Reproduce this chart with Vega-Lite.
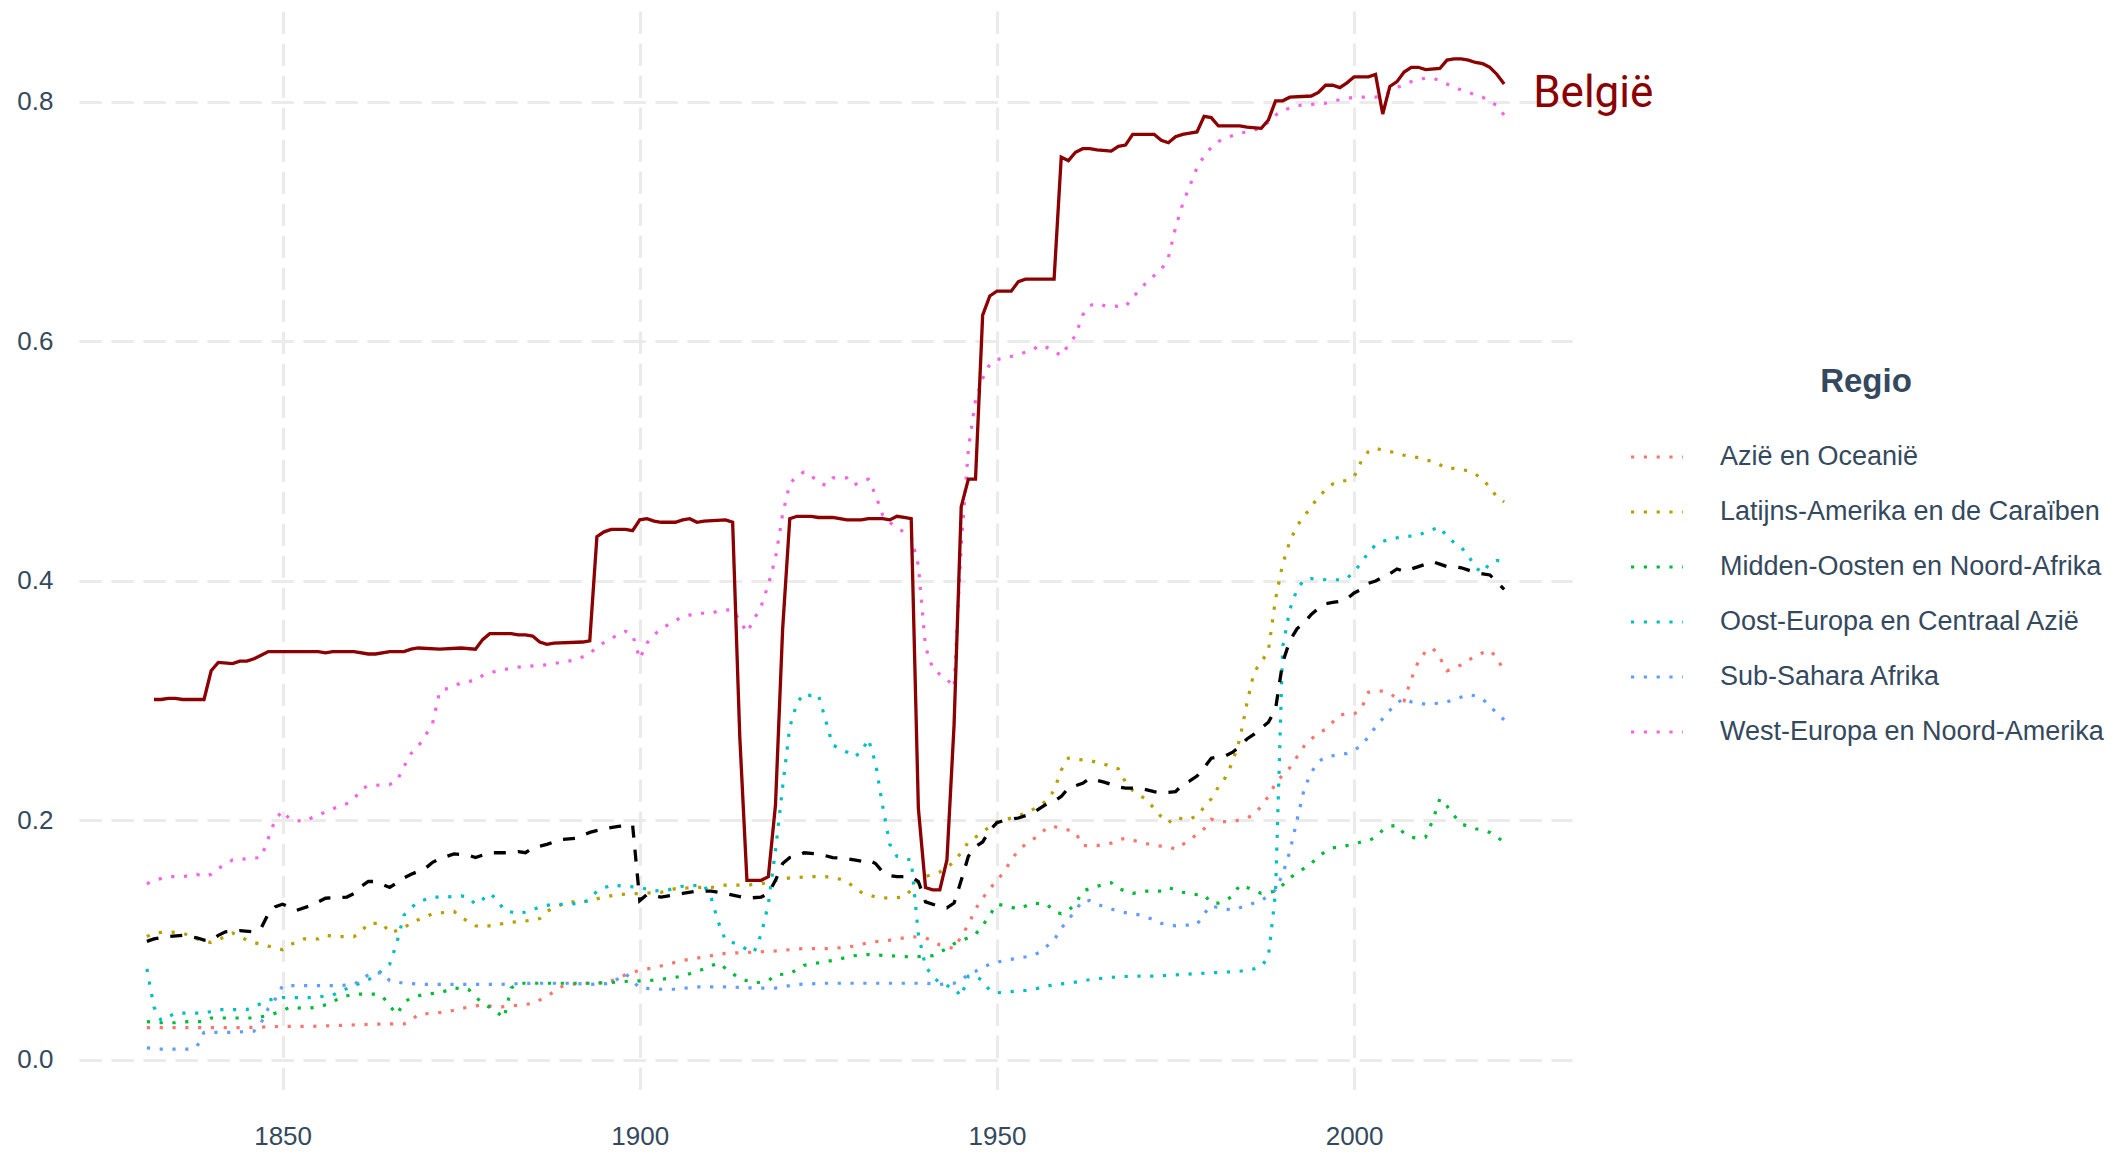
{
"$schema":"https://vega.github.io/schema/vega-lite/v6.json",
"width":1493,"height":1086,
"autosize":{"type":"none"},
"padding":{"left":79,"top":11,"right":554,"bottom":55},
"background":"white",
"config":{
 "view":{"stroke":null},
 "axis":{"domain":false,"ticks":false,"tickSize":0,"title":null,"labelFont":"Liberation Sans","labelFontSize":26,"labelColor":"#34495e","labelPadding":26,"gridColor":"#EBEBEB","gridWidth":3.2,"gridDash":[22.4,9.6],"grid":true},
 "legend":{"orient":"none","legendX":1550,"legendY":355,"titleFont":"Liberation Sans","titleFontSize":33,"titleFontWeight":"bold","titleColor":"#34495e","titleAnchor":"middle","titleAlign":"center","titlePadding":30,"labelFont":"Liberation Sans","labelFontSize":27,"labelColor":"#34495e","labelLimit":700,"labelOffset":35,"symbolType":"stroke","symbolSize":2704,"symbolStrokeWidth":3.2,"symbolDash":[3.2,9.6],"rowPadding":14}
},
"datasets":{
"regio":[
{"r":"Azië en Oceanië","jaar":1831,"w":0.027},{"r":"Azië en Oceanië","jaar":1835,"w":0.027},{"r":"Azië en Oceanië","jaar":1840,"w":0.027},{"r":"Azië en Oceanië","jaar":1845,"w":0.027},{"r":"Azië en Oceanië","jaar":1850,"w":0.028},{"r":"Azië en Oceanië","jaar":1854,"w":0.028},{"r":"Azië en Oceanië","jaar":1859,"w":0.029},{"r":"Azië en Oceanië","jaar":1864,"w":0.030},{"r":"Azië en Oceanië","jaar":1867,"w":0.030},{"r":"Azië en Oceanië","jaar":1868,"w":0.033},{"r":"Azië en Oceanië","jaar":1869,"w":0.038},{"r":"Azië en Oceanië","jaar":1873,"w":0.040},{"r":"Azië en Oceanië","jaar":1875,"w":0.043},{"r":"Azië en Oceanië","jaar":1878,"w":0.046},{"r":"Azië en Oceanië","jaar":1880,"w":0.044},{"r":"Azië en Oceanië","jaar":1882,"w":0.045},{"r":"Azië en Oceanië","jaar":1885,"w":0.047},{"r":"Azië en Oceanië","jaar":1887,"w":0.053},{"r":"Azië en Oceanië","jaar":1889,"w":0.061},{"r":"Azië en Oceanië","jaar":1890,"w":0.063},{"r":"Azië en Oceanië","jaar":1892,"w":0.064},{"r":"Azië en Oceanië","jaar":1894,"w":0.064},{"r":"Azië en Oceanië","jaar":1896,"w":0.066},{"r":"Azië en Oceanië","jaar":1898,"w":0.071},{"r":"Azië en Oceanië","jaar":1900,"w":0.075},{"r":"Azië en Oceanië","jaar":1902,"w":0.077},{"r":"Azië en Oceanië","jaar":1904,"w":0.080},{"r":"Azië en Oceanië","jaar":1906,"w":0.083},{"r":"Azië en Oceanië","jaar":1908,"w":0.085},{"r":"Azië en Oceanië","jaar":1910,"w":0.087},{"r":"Azië en Oceanië","jaar":1912,"w":0.089},{"r":"Azië en Oceanië","jaar":1916,"w":0.090},{"r":"Azië en Oceanië","jaar":1919,"w":0.091},{"r":"Azië en Oceanië","jaar":1923,"w":0.093},{"r":"Azië en Oceanië","jaar":1927,"w":0.093},{"r":"Azië en Oceanië","jaar":1930,"w":0.095},{"r":"Azië en Oceanië","jaar":1932,"w":0.098},{"r":"Azië en Oceanië","jaar":1935,"w":0.100},{"r":"Azië en Oceanië","jaar":1938,"w":0.103},{"r":"Azië en Oceanië","jaar":1940,"w":0.102},{"r":"Azië en Oceanië","jaar":1942,"w":0.096},{"r":"Azië en Oceanië","jaar":1944,"w":0.093},{"r":"Azië en Oceanië","jaar":1945,"w":0.103},{"r":"Azië en Oceanië","jaar":1946,"w":0.113},{"r":"Azië en Oceanië","jaar":1947,"w":0.126},{"r":"Azië en Oceanië","jaar":1948,"w":0.135},{"r":"Azië en Oceanië","jaar":1949,"w":0.143},{"r":"Azië en Oceanië","jaar":1950,"w":0.150},{"r":"Azië en Oceanië","jaar":1951,"w":0.157},{"r":"Azië en Oceanië","jaar":1952,"w":0.167},{"r":"Azië en Oceanië","jaar":1953,"w":0.175},{"r":"Azië en Oceanië","jaar":1954,"w":0.180},{"r":"Azië en Oceanië","jaar":1955,"w":0.184},{"r":"Azië en Oceanië","jaar":1956,"w":0.188},{"r":"Azië en Oceanië","jaar":1957,"w":0.194},{"r":"Azië en Oceanië","jaar":1958,"w":0.195},{"r":"Azië en Oceanië","jaar":1959,"w":0.193},{"r":"Azië en Oceanië","jaar":1960,"w":0.192},{"r":"Azië en Oceanië","jaar":1961,"w":0.190},{"r":"Azië en Oceanië","jaar":1962,"w":0.179},{"r":"Azië en Oceanië","jaar":1964,"w":0.179},{"r":"Azië en Oceanië","jaar":1966,"w":0.181},{"r":"Azië en Oceanië","jaar":1967,"w":0.184},{"r":"Azië en Oceanië","jaar":1968,"w":0.185},{"r":"Azië en Oceanië","jaar":1970,"w":0.182},{"r":"Azië en Oceanië","jaar":1972,"w":0.179},{"r":"Azië en Oceanië","jaar":1974,"w":0.178},{"r":"Azië en Oceanië","jaar":1975,"w":0.176},{"r":"Azië en Oceanië","jaar":1976,"w":0.180},{"r":"Azië en Oceanië","jaar":1977,"w":0.183},{"r":"Azië en Oceanië","jaar":1978,"w":0.189},{"r":"Azië en Oceanië","jaar":1979,"w":0.193},{"r":"Azië en Oceanië","jaar":1980,"w":0.201},{"r":"Azië en Oceanië","jaar":1981,"w":0.199},{"r":"Azië en Oceanië","jaar":1983,"w":0.199},{"r":"Azië en Oceanië","jaar":1985,"w":0.202},{"r":"Azië en Oceanië","jaar":1986,"w":0.205},{"r":"Azië en Oceanië","jaar":1987,"w":0.212},{"r":"Azië en Oceanië","jaar":1988,"w":0.220},{"r":"Azië en Oceanië","jaar":1989,"w":0.231},{"r":"Azië en Oceanië","jaar":1990,"w":0.238},{"r":"Azië en Oceanië","jaar":1991,"w":0.244},{"r":"Azië en Oceanië","jaar":1992,"w":0.253},{"r":"Azië en Oceanië","jaar":1993,"w":0.262},{"r":"Azië en Oceanië","jaar":1994,"w":0.268},{"r":"Azië en Oceanië","jaar":1995,"w":0.273},{"r":"Azië en Oceanië","jaar":1996,"w":0.276},{"r":"Azië en Oceanië","jaar":1997,"w":0.282},{"r":"Azië en Oceanië","jaar":1998,"w":0.288},{"r":"Azië en Oceanië","jaar":1999,"w":0.289},{"r":"Azië en Oceanië","jaar":2000,"w":0.289},{"r":"Azië en Oceanië","jaar":2001,"w":0.293},{"r":"Azië en Oceanië","jaar":2002,"w":0.307},{"r":"Azië en Oceanië","jaar":2003,"w":0.308},{"r":"Azië en Oceanië","jaar":2004,"w":0.308},{"r":"Azië en Oceanië","jaar":2005,"w":0.306},{"r":"Azië en Oceanië","jaar":2006,"w":0.302},{"r":"Azië en Oceanië","jaar":2007,"w":0.300},{"r":"Azië en Oceanië","jaar":2008,"w":0.318},{"r":"Azië en Oceanië","jaar":2009,"w":0.333},{"r":"Azië en Oceanië","jaar":2010,"w":0.341},{"r":"Azië en Oceanië","jaar":2011,"w":0.344},{"r":"Azië en Oceanië","jaar":2012,"w":0.336},{"r":"Azië en Oceanië","jaar":2013,"w":0.325},{"r":"Azië en Oceanië","jaar":2014,"w":0.327},{"r":"Azië en Oceanië","jaar":2015,"w":0.330},{"r":"Azië en Oceanië","jaar":2016,"w":0.334},{"r":"Azië en Oceanië","jaar":2017,"w":0.337},{"r":"Azië en Oceanië","jaar":2018,"w":0.340},{"r":"Azië en Oceanië","jaar":2019,"w":0.342},{"r":"Azië en Oceanië","jaar":2020,"w":0.336},{"r":"Azië en Oceanië","jaar":2021,"w":0.324},
{"r":"Latijns-Amerika en de Caraïben","jaar":1831,"w":0.103},{"r":"Latijns-Amerika en de Caraïben","jaar":1832,"w":0.106},{"r":"Latijns-Amerika en de Caraïben","jaar":1834,"w":0.107},{"r":"Latijns-Amerika en de Caraïben","jaar":1836,"w":0.106},{"r":"Latijns-Amerika en de Caraïben","jaar":1838,"w":0.101},{"r":"Latijns-Amerika en de Caraïben","jaar":1840,"w":0.098},{"r":"Latijns-Amerika en de Caraïben","jaar":1842,"w":0.103},{"r":"Latijns-Amerika en de Caraïben","jaar":1843,"w":0.106},{"r":"Latijns-Amerika en de Caraïben","jaar":1845,"w":0.100},{"r":"Latijns-Amerika en de Caraïben","jaar":1846,"w":0.098},{"r":"Latijns-Amerika en de Caraïben","jaar":1848,"w":0.095},{"r":"Latijns-Amerika en de Caraïben","jaar":1850,"w":0.092},{"r":"Latijns-Amerika en de Caraïben","jaar":1851,"w":0.096},{"r":"Latijns-Amerika en de Caraïben","jaar":1853,"w":0.101},{"r":"Latijns-Amerika en de Caraïben","jaar":1855,"w":0.101},{"r":"Latijns-Amerika en de Caraïben","jaar":1856,"w":0.104},{"r":"Latijns-Amerika en de Caraïben","jaar":1858,"w":0.103},{"r":"Latijns-Amerika en de Caraïben","jaar":1860,"w":0.103},{"r":"Latijns-Amerika en de Caraïben","jaar":1861,"w":0.107},{"r":"Latijns-Amerika en de Caraïben","jaar":1862,"w":0.114},{"r":"Latijns-Amerika en de Caraïben","jaar":1864,"w":0.114},{"r":"Latijns-Amerika en de Caraïben","jaar":1865,"w":0.106},{"r":"Latijns-Amerika en de Caraïben","jaar":1866,"w":0.108},{"r":"Latijns-Amerika en de Caraïben","jaar":1867,"w":0.110},{"r":"Latijns-Amerika en de Caraïben","jaar":1868,"w":0.115},{"r":"Latijns-Amerika en de Caraïben","jaar":1869,"w":0.117},{"r":"Latijns-Amerika en de Caraïben","jaar":1871,"w":0.122},{"r":"Latijns-Amerika en de Caraïben","jaar":1874,"w":0.124},{"r":"Latijns-Amerika en de Caraïben","jaar":1875,"w":0.119},{"r":"Latijns-Amerika en de Caraïben","jaar":1877,"w":0.112},{"r":"Latijns-Amerika en de Caraïben","jaar":1878,"w":0.111},{"r":"Latijns-Amerika en de Caraïben","jaar":1880,"w":0.113},{"r":"Latijns-Amerika en de Caraïben","jaar":1882,"w":0.115},{"r":"Latijns-Amerika en de Caraïben","jaar":1884,"w":0.116},{"r":"Latijns-Amerika en de Caraïben","jaar":1886,"w":0.118},{"r":"Latijns-Amerika en de Caraïben","jaar":1887,"w":0.124},{"r":"Latijns-Amerika en de Caraïben","jaar":1888,"w":0.127},{"r":"Latijns-Amerika en de Caraïben","jaar":1890,"w":0.132},{"r":"Latijns-Amerika en de Caraïben","jaar":1892,"w":0.132},{"r":"Latijns-Amerika en de Caraïben","jaar":1893,"w":0.133},{"r":"Latijns-Amerika en de Caraïben","jaar":1895,"w":0.136},{"r":"Latijns-Amerika en de Caraïben","jaar":1897,"w":0.138},{"r":"Latijns-Amerika en de Caraïben","jaar":1900,"w":0.139},{"r":"Latijns-Amerika en de Caraïben","jaar":1903,"w":0.140},{"r":"Latijns-Amerika en de Caraïben","jaar":1905,"w":0.143},{"r":"Latijns-Amerika en de Caraïben","jaar":1908,"w":0.144},{"r":"Latijns-Amerika en de Caraïben","jaar":1910,"w":0.144},{"r":"Latijns-Amerika en de Caraïben","jaar":1912,"w":0.146},{"r":"Latijns-Amerika en de Caraïben","jaar":1915,"w":0.146},{"r":"Latijns-Amerika en de Caraïben","jaar":1917,"w":0.147},{"r":"Latijns-Amerika en de Caraïben","jaar":1919,"w":0.150},{"r":"Latijns-Amerika en de Caraïben","jaar":1921,"w":0.152},{"r":"Latijns-Amerika en de Caraïben","jaar":1924,"w":0.153},{"r":"Latijns-Amerika en de Caraïben","jaar":1926,"w":0.153},{"r":"Latijns-Amerika en de Caraïben","jaar":1928,"w":0.151},{"r":"Latijns-Amerika en de Caraïben","jaar":1929,"w":0.149},{"r":"Latijns-Amerika en de Caraïben","jaar":1930,"w":0.144},{"r":"Latijns-Amerika en de Caraïben","jaar":1931,"w":0.140},{"r":"Latijns-Amerika en de Caraïben","jaar":1932,"w":0.138},{"r":"Latijns-Amerika en de Caraïben","jaar":1933,"w":0.136},{"r":"Latijns-Amerika en de Caraïben","jaar":1935,"w":0.135},{"r":"Latijns-Amerika en de Caraïben","jaar":1937,"w":0.136},{"r":"Latijns-Amerika en de Caraïben","jaar":1938,"w":0.142},{"r":"Latijns-Amerika en de Caraïben","jaar":1939,"w":0.150},{"r":"Latijns-Amerika en de Caraïben","jaar":1940,"w":0.153},{"r":"Latijns-Amerika en de Caraïben","jaar":1941,"w":0.155},{"r":"Latijns-Amerika en de Caraïben","jaar":1942,"w":0.157},{"r":"Latijns-Amerika en de Caraïben","jaar":1943,"w":0.160},{"r":"Latijns-Amerika en de Caraïben","jaar":1944,"w":0.166},{"r":"Latijns-Amerika en de Caraïben","jaar":1945,"w":0.173},{"r":"Latijns-Amerika en de Caraïben","jaar":1946,"w":0.182},{"r":"Latijns-Amerika en de Caraïben","jaar":1947,"w":0.186},{"r":"Latijns-Amerika en de Caraïben","jaar":1948,"w":0.190},{"r":"Latijns-Amerika en de Caraïben","jaar":1949,"w":0.195},{"r":"Latijns-Amerika en de Caraïben","jaar":1950,"w":0.199},{"r":"Latijns-Amerika en de Caraïben","jaar":1952,"w":0.202},{"r":"Latijns-Amerika en de Caraïben","jaar":1954,"w":0.206},{"r":"Latijns-Amerika en de Caraïben","jaar":1955,"w":0.209},{"r":"Latijns-Amerika en de Caraïben","jaar":1956,"w":0.212},{"r":"Latijns-Amerika en de Caraïben","jaar":1957,"w":0.217},{"r":"Latijns-Amerika en de Caraïben","jaar":1958,"w":0.225},{"r":"Latijns-Amerika en de Caraïben","jaar":1959,"w":0.242},{"r":"Latijns-Amerika en de Caraïben","jaar":1960,"w":0.252},{"r":"Latijns-Amerika en de Caraïben","jaar":1961,"w":0.251},{"r":"Latijns-Amerika en de Caraïben","jaar":1963,"w":0.250},{"r":"Latijns-Amerika en de Caraïben","jaar":1965,"w":0.247},{"r":"Latijns-Amerika en de Caraïben","jaar":1967,"w":0.243},{"r":"Latijns-Amerika en de Caraïben","jaar":1968,"w":0.232},{"r":"Latijns-Amerika en de Caraïben","jaar":1969,"w":0.225},{"r":"Latijns-Amerika en de Caraïben","jaar":1970,"w":0.221},{"r":"Latijns-Amerika en de Caraïben","jaar":1971,"w":0.217},{"r":"Latijns-Amerika en de Caraïben","jaar":1972,"w":0.210},{"r":"Latijns-Amerika en de Caraïben","jaar":1973,"w":0.203},{"r":"Latijns-Amerika en de Caraïben","jaar":1974,"w":0.198},{"r":"Latijns-Amerika en de Caraïben","jaar":1975,"w":0.203},{"r":"Latijns-Amerika en de Caraïben","jaar":1976,"w":0.201},{"r":"Latijns-Amerika en de Caraïben","jaar":1977,"w":0.201},{"r":"Latijns-Amerika en de Caraïben","jaar":1978,"w":0.204},{"r":"Latijns-Amerika en de Caraïben","jaar":1979,"w":0.211},{"r":"Latijns-Amerika en de Caraïben","jaar":1980,"w":0.218},{"r":"Latijns-Amerika en de Caraïben","jaar":1981,"w":0.228},{"r":"Latijns-Amerika en de Caraïben","jaar":1982,"w":0.236},{"r":"Latijns-Amerika en de Caraïben","jaar":1983,"w":0.249},{"r":"Latijns-Amerika en de Caraïben","jaar":1984,"w":0.268},{"r":"Latijns-Amerika en de Caraïben","jaar":1985,"w":0.298},{"r":"Latijns-Amerika en de Caraïben","jaar":1986,"w":0.324},{"r":"Latijns-Amerika en de Caraïben","jaar":1987,"w":0.332},{"r":"Latijns-Amerika en de Caraïben","jaar":1988,"w":0.342},{"r":"Latijns-Amerika en de Caraïben","jaar":1989,"w":0.385},{"r":"Latijns-Amerika en de Caraïben","jaar":1990,"w":0.414},{"r":"Latijns-Amerika en de Caraïben","jaar":1991,"w":0.433},{"r":"Latijns-Amerika en de Caraïben","jaar":1992,"w":0.446},{"r":"Latijns-Amerika en de Caraïben","jaar":1993,"w":0.454},{"r":"Latijns-Amerika en de Caraïben","jaar":1994,"w":0.462},{"r":"Latijns-Amerika en de Caraïben","jaar":1995,"w":0.470},{"r":"Latijns-Amerika en de Caraïben","jaar":1996,"w":0.476},{"r":"Latijns-Amerika en de Caraïben","jaar":1997,"w":0.481},{"r":"Latijns-Amerika en de Caraïben","jaar":1998,"w":0.483},{"r":"Latijns-Amerika en de Caraïben","jaar":1999,"w":0.484},{"r":"Latijns-Amerika en de Caraïben","jaar":2000,"w":0.487},{"r":"Latijns-Amerika en de Caraïben","jaar":2001,"w":0.500},{"r":"Latijns-Amerika en de Caraïben","jaar":2002,"w":0.508},{"r":"Latijns-Amerika en de Caraïben","jaar":2003,"w":0.511},{"r":"Latijns-Amerika en de Caraïben","jaar":2004,"w":0.509},{"r":"Latijns-Amerika en de Caraïben","jaar":2005,"w":0.508},{"r":"Latijns-Amerika en de Caraïben","jaar":2006,"w":0.507},{"r":"Latijns-Amerika en de Caraïben","jaar":2007,"w":0.505},{"r":"Latijns-Amerika en de Caraïben","jaar":2008,"w":0.504},{"r":"Latijns-Amerika en de Caraïben","jaar":2009,"w":0.503},{"r":"Latijns-Amerika en de Caraïben","jaar":2010,"w":0.501},{"r":"Latijns-Amerika en de Caraïben","jaar":2011,"w":0.500},{"r":"Latijns-Amerika en de Caraïben","jaar":2012,"w":0.497},{"r":"Latijns-Amerika en de Caraïben","jaar":2013,"w":0.494},{"r":"Latijns-Amerika en de Caraïben","jaar":2014,"w":0.494},{"r":"Latijns-Amerika en de Caraïben","jaar":2015,"w":0.493},{"r":"Latijns-Amerika en de Caraïben","jaar":2016,"w":0.492},{"r":"Latijns-Amerika en de Caraïben","jaar":2017,"w":0.489},{"r":"Latijns-Amerika en de Caraïben","jaar":2018,"w":0.485},{"r":"Latijns-Amerika en de Caraïben","jaar":2019,"w":0.478},{"r":"Latijns-Amerika en de Caraïben","jaar":2020,"w":0.470},{"r":"Latijns-Amerika en de Caraïben","jaar":2021,"w":0.466},
{"r":"Midden-Oosten en Noord-Afrika","jaar":1831,"w":0.032},{"r":"Midden-Oosten en Noord-Afrika","jaar":1833,"w":0.031},{"r":"Midden-Oosten en Noord-Afrika","jaar":1835,"w":0.031},{"r":"Midden-Oosten en Noord-Afrika","jaar":1837,"w":0.032},{"r":"Midden-Oosten en Noord-Afrika","jaar":1839,"w":0.032},{"r":"Midden-Oosten en Noord-Afrika","jaar":1840,"w":0.035},{"r":"Midden-Oosten en Noord-Afrika","jaar":1846,"w":0.035},{"r":"Midden-Oosten en Noord-Afrika","jaar":1848,"w":0.037},{"r":"Midden-Oosten en Noord-Afrika","jaar":1850,"w":0.041},{"r":"Midden-Oosten en Noord-Afrika","jaar":1851,"w":0.044},{"r":"Midden-Oosten en Noord-Afrika","jaar":1853,"w":0.043},{"r":"Midden-Oosten en Noord-Afrika","jaar":1855,"w":0.044},{"r":"Midden-Oosten en Noord-Afrika","jaar":1857,"w":0.048},{"r":"Midden-Oosten en Noord-Afrika","jaar":1858,"w":0.052},{"r":"Midden-Oosten en Noord-Afrika","jaar":1860,"w":0.055},{"r":"Midden-Oosten en Noord-Afrika","jaar":1863,"w":0.055},{"r":"Midden-Oosten en Noord-Afrika","jaar":1864,"w":0.053},{"r":"Midden-Oosten en Noord-Afrika","jaar":1865,"w":0.045},{"r":"Midden-Oosten en Noord-Afrika","jaar":1866,"w":0.038},{"r":"Midden-Oosten en Noord-Afrika","jaar":1867,"w":0.048},{"r":"Midden-Oosten en Noord-Afrika","jaar":1868,"w":0.052},{"r":"Midden-Oosten en Noord-Afrika","jaar":1870,"w":0.055},{"r":"Midden-Oosten en Noord-Afrika","jaar":1872,"w":0.056},{"r":"Midden-Oosten en Noord-Afrika","jaar":1874,"w":0.060},{"r":"Midden-Oosten en Noord-Afrika","jaar":1876,"w":0.059},{"r":"Midden-Oosten en Noord-Afrika","jaar":1877,"w":0.053},{"r":"Midden-Oosten en Noord-Afrika","jaar":1878,"w":0.047},{"r":"Midden-Oosten en Noord-Afrika","jaar":1879,"w":0.044},{"r":"Midden-Oosten en Noord-Afrika","jaar":1880,"w":0.040},{"r":"Midden-Oosten en Noord-Afrika","jaar":1881,"w":0.035},{"r":"Midden-Oosten en Noord-Afrika","jaar":1882,"w":0.060},{"r":"Midden-Oosten en Noord-Afrika","jaar":1883,"w":0.064},{"r":"Midden-Oosten en Noord-Afrika","jaar":1886,"w":0.064},{"r":"Midden-Oosten en Noord-Afrika","jaar":1890,"w":0.064},{"r":"Midden-Oosten en Noord-Afrika","jaar":1894,"w":0.064},{"r":"Midden-Oosten en Noord-Afrika","jaar":1897,"w":0.065},{"r":"Midden-Oosten en Noord-Afrika","jaar":1899,"w":0.066},{"r":"Midden-Oosten en Noord-Afrika","jaar":1901,"w":0.066},{"r":"Midden-Oosten en Noord-Afrika","jaar":1904,"w":0.068},{"r":"Midden-Oosten en Noord-Afrika","jaar":1906,"w":0.070},{"r":"Midden-Oosten en Noord-Afrika","jaar":1907,"w":0.072},{"r":"Midden-Oosten en Noord-Afrika","jaar":1909,"w":0.076},{"r":"Midden-Oosten en Noord-Afrika","jaar":1911,"w":0.081},{"r":"Midden-Oosten en Noord-Afrika","jaar":1913,"w":0.072},{"r":"Midden-Oosten en Noord-Afrika","jaar":1914,"w":0.068},{"r":"Midden-Oosten en Noord-Afrika","jaar":1916,"w":0.064},{"r":"Midden-Oosten en Noord-Afrika","jaar":1918,"w":0.066},{"r":"Midden-Oosten en Noord-Afrika","jaar":1919,"w":0.071},{"r":"Midden-Oosten en Noord-Afrika","jaar":1921,"w":0.072},{"r":"Midden-Oosten en Noord-Afrika","jaar":1923,"w":0.079},{"r":"Midden-Oosten en Noord-Afrika","jaar":1925,"w":0.081},{"r":"Midden-Oosten en Noord-Afrika","jaar":1927,"w":0.083},{"r":"Midden-Oosten en Noord-Afrika","jaar":1930,"w":0.087},{"r":"Midden-Oosten en Noord-Afrika","jaar":1932,"w":0.088},{"r":"Midden-Oosten en Noord-Afrika","jaar":1935,"w":0.087},{"r":"Midden-Oosten en Noord-Afrika","jaar":1938,"w":0.086},{"r":"Midden-Oosten en Noord-Afrika","jaar":1941,"w":0.087},{"r":"Midden-Oosten en Noord-Afrika","jaar":1942,"w":0.090},{"r":"Midden-Oosten en Noord-Afrika","jaar":1943,"w":0.093},{"r":"Midden-Oosten en Noord-Afrika","jaar":1944,"w":0.097},{"r":"Midden-Oosten en Noord-Afrika","jaar":1946,"w":0.102},{"r":"Midden-Oosten en Noord-Afrika","jaar":1947,"w":0.105},{"r":"Midden-Oosten en Noord-Afrika","jaar":1948,"w":0.112},{"r":"Midden-Oosten en Noord-Afrika","jaar":1949,"w":0.121},{"r":"Midden-Oosten en Noord-Afrika","jaar":1950,"w":0.130},{"r":"Midden-Oosten en Noord-Afrika","jaar":1951,"w":0.129},{"r":"Midden-Oosten en Noord-Afrika","jaar":1953,"w":0.126},{"r":"Midden-Oosten en Noord-Afrika","jaar":1955,"w":0.131},{"r":"Midden-Oosten en Noord-Afrika","jaar":1957,"w":0.130},{"r":"Midden-Oosten en Noord-Afrika","jaar":1958,"w":0.124},{"r":"Midden-Oosten en Noord-Afrika","jaar":1959,"w":0.122},{"r":"Midden-Oosten en Noord-Afrika","jaar":1960,"w":0.125},{"r":"Midden-Oosten en Noord-Afrika","jaar":1961,"w":0.130},{"r":"Midden-Oosten en Noord-Afrika","jaar":1962,"w":0.141},{"r":"Midden-Oosten en Noord-Afrika","jaar":1964,"w":0.145},{"r":"Midden-Oosten en Noord-Afrika","jaar":1966,"w":0.148},{"r":"Midden-Oosten en Noord-Afrika","jaar":1967,"w":0.143},{"r":"Midden-Oosten en Noord-Afrika","jaar":1969,"w":0.139},{"r":"Midden-Oosten en Noord-Afrika","jaar":1971,"w":0.141},{"r":"Midden-Oosten en Noord-Afrika","jaar":1973,"w":0.141},{"r":"Midden-Oosten en Noord-Afrika","jaar":1974,"w":0.144},{"r":"Midden-Oosten en Noord-Afrika","jaar":1976,"w":0.140},{"r":"Midden-Oosten en Noord-Afrika","jaar":1978,"w":0.138},{"r":"Midden-Oosten en Noord-Afrika","jaar":1979,"w":0.138},{"r":"Midden-Oosten en Noord-Afrika","jaar":1980,"w":0.131},{"r":"Midden-Oosten en Noord-Afrika","jaar":1981,"w":0.131},{"r":"Midden-Oosten en Noord-Afrika","jaar":1982,"w":0.133},{"r":"Midden-Oosten en Noord-Afrika","jaar":1983,"w":0.137},{"r":"Midden-Oosten en Noord-Afrika","jaar":1984,"w":0.146},{"r":"Midden-Oosten en Noord-Afrika","jaar":1985,"w":0.144},{"r":"Midden-Oosten en Noord-Afrika","jaar":1987,"w":0.139},{"r":"Midden-Oosten en Noord-Afrika","jaar":1989,"w":0.141},{"r":"Midden-Oosten en Noord-Afrika","jaar":1990,"w":0.146},{"r":"Midden-Oosten en Noord-Afrika","jaar":1991,"w":0.152},{"r":"Midden-Oosten en Noord-Afrika","jaar":1992,"w":0.156},{"r":"Midden-Oosten en Noord-Afrika","jaar":1993,"w":0.160},{"r":"Midden-Oosten en Noord-Afrika","jaar":1994,"w":0.164},{"r":"Midden-Oosten en Noord-Afrika","jaar":1995,"w":0.170},{"r":"Midden-Oosten en Noord-Afrika","jaar":1996,"w":0.174},{"r":"Midden-Oosten en Noord-Afrika","jaar":1997,"w":0.177},{"r":"Midden-Oosten en Noord-Afrika","jaar":1998,"w":0.178},{"r":"Midden-Oosten en Noord-Afrika","jaar":1999,"w":0.179},{"r":"Midden-Oosten en Noord-Afrika","jaar":2000,"w":0.180},{"r":"Midden-Oosten en Noord-Afrika","jaar":2001,"w":0.182},{"r":"Midden-Oosten en Noord-Afrika","jaar":2002,"w":0.183},{"r":"Midden-Oosten en Noord-Afrika","jaar":2003,"w":0.186},{"r":"Midden-Oosten en Noord-Afrika","jaar":2004,"w":0.192},{"r":"Midden-Oosten en Noord-Afrika","jaar":2005,"w":0.195},{"r":"Midden-Oosten en Noord-Afrika","jaar":2006,"w":0.196},{"r":"Midden-Oosten en Noord-Afrika","jaar":2007,"w":0.189},{"r":"Midden-Oosten en Noord-Afrika","jaar":2008,"w":0.186},{"r":"Midden-Oosten en Noord-Afrika","jaar":2009,"w":0.185},{"r":"Midden-Oosten en Noord-Afrika","jaar":2010,"w":0.186},{"r":"Midden-Oosten en Noord-Afrika","jaar":2011,"w":0.200},{"r":"Midden-Oosten en Noord-Afrika","jaar":2012,"w":0.218},{"r":"Midden-Oosten en Noord-Afrika","jaar":2013,"w":0.212},{"r":"Midden-Oosten en Noord-Afrika","jaar":2014,"w":0.204},{"r":"Midden-Oosten en Noord-Afrika","jaar":2015,"w":0.197},{"r":"Midden-Oosten en Noord-Afrika","jaar":2016,"w":0.195},{"r":"Midden-Oosten en Noord-Afrika","jaar":2017,"w":0.193},{"r":"Midden-Oosten en Noord-Afrika","jaar":2018,"w":0.192},{"r":"Midden-Oosten en Noord-Afrika","jaar":2019,"w":0.190},{"r":"Midden-Oosten en Noord-Afrika","jaar":2020,"w":0.186},{"r":"Midden-Oosten en Noord-Afrika","jaar":2021,"w":0.182},
{"r":"Oost-Europa en Centraal Azië","jaar":1831,"w":0.076},{"r":"Oost-Europa en Centraal Azië","jaar":1832,"w":0.044},{"r":"Oost-Europa en Centraal Azië","jaar":1833,"w":0.033},{"r":"Oost-Europa en Centraal Azië","jaar":1835,"w":0.039},{"r":"Oost-Europa en Centraal Azië","jaar":1839,"w":0.039},{"r":"Oost-Europa en Centraal Azië","jaar":1841,"w":0.042},{"r":"Oost-Europa en Centraal Azië","jaar":1845,"w":0.042},{"r":"Oost-Europa en Centraal Azië","jaar":1847,"w":0.047},{"r":"Oost-Europa en Centraal Azië","jaar":1848,"w":0.050},{"r":"Oost-Europa en Centraal Azië","jaar":1850,"w":0.052},{"r":"Oost-Europa en Centraal Azië","jaar":1854,"w":0.052},{"r":"Oost-Europa en Centraal Azië","jaar":1857,"w":0.054},{"r":"Oost-Europa en Centraal Azië","jaar":1858,"w":0.057},{"r":"Oost-Europa en Centraal Azië","jaar":1860,"w":0.062},{"r":"Oost-Europa en Centraal Azië","jaar":1862,"w":0.067},{"r":"Oost-Europa en Centraal Azië","jaar":1863,"w":0.070},{"r":"Oost-Europa en Centraal Azië","jaar":1864,"w":0.075},{"r":"Oost-Europa en Centraal Azië","jaar":1865,"w":0.080},{"r":"Oost-Europa en Centraal Azië","jaar":1866,"w":0.098},{"r":"Oost-Europa en Centraal Azië","jaar":1867,"w":0.121},{"r":"Oost-Europa en Centraal Azië","jaar":1868,"w":0.127},{"r":"Oost-Europa en Centraal Azië","jaar":1869,"w":0.132},{"r":"Oost-Europa en Centraal Azië","jaar":1871,"w":0.136},{"r":"Oost-Europa en Centraal Azië","jaar":1873,"w":0.136},{"r":"Oost-Europa en Centraal Azië","jaar":1875,"w":0.137},{"r":"Oost-Europa en Centraal Azië","jaar":1876,"w":0.136},{"r":"Oost-Europa en Centraal Azië","jaar":1877,"w":0.130},{"r":"Oost-Europa en Centraal Azië","jaar":1878,"w":0.134},{"r":"Oost-Europa en Centraal Azië","jaar":1879,"w":0.139},{"r":"Oost-Europa en Centraal Azië","jaar":1880,"w":0.134},{"r":"Oost-Europa en Centraal Azië","jaar":1881,"w":0.125},{"r":"Oost-Europa en Centraal Azië","jaar":1883,"w":0.122},{"r":"Oost-Europa en Centraal Azië","jaar":1885,"w":0.125},{"r":"Oost-Europa en Centraal Azië","jaar":1886,"w":0.128},{"r":"Oost-Europa en Centraal Azië","jaar":1888,"w":0.130},{"r":"Oost-Europa en Centraal Azië","jaar":1890,"w":0.130},{"r":"Oost-Europa en Centraal Azië","jaar":1892,"w":0.131},{"r":"Oost-Europa en Centraal Azië","jaar":1893,"w":0.134},{"r":"Oost-Europa en Centraal Azië","jaar":1894,"w":0.141},{"r":"Oost-Europa en Centraal Azië","jaar":1896,"w":0.146},{"r":"Oost-Europa en Centraal Azië","jaar":1898,"w":0.145},{"r":"Oost-Europa en Centraal Azië","jaar":1900,"w":0.144},{"r":"Oost-Europa en Centraal Azië","jaar":1902,"w":0.141},{"r":"Oost-Europa en Centraal Azië","jaar":1904,"w":0.142},{"r":"Oost-Europa en Centraal Azië","jaar":1906,"w":0.145},{"r":"Oost-Europa en Centraal Azië","jaar":1909,"w":0.146},{"r":"Oost-Europa en Centraal Azië","jaar":1910,"w":0.135},{"r":"Oost-Europa en Centraal Azië","jaar":1911,"w":0.115},{"r":"Oost-Europa en Centraal Azië","jaar":1912,"w":0.100},{"r":"Oost-Europa en Centraal Azië","jaar":1913,"w":0.098},{"r":"Oost-Europa en Centraal Azië","jaar":1914,"w":0.096},{"r":"Oost-Europa en Centraal Azië","jaar":1915,"w":0.092},{"r":"Oost-Europa en Centraal Azië","jaar":1916,"w":0.090},{"r":"Oost-Europa en Centraal Azië","jaar":1917,"w":0.105},{"r":"Oost-Europa en Centraal Azië","jaar":1918,"w":0.130},{"r":"Oost-Europa en Centraal Azië","jaar":1919,"w":0.175},{"r":"Oost-Europa en Centraal Azië","jaar":1920,"w":0.228},{"r":"Oost-Europa en Centraal Azië","jaar":1921,"w":0.278},{"r":"Oost-Europa en Centraal Azië","jaar":1922,"w":0.298},{"r":"Oost-Europa en Centraal Azië","jaar":1923,"w":0.306},{"r":"Oost-Europa en Centraal Azië","jaar":1924,"w":0.304},{"r":"Oost-Europa en Centraal Azië","jaar":1925,"w":0.305},{"r":"Oost-Europa en Centraal Azië","jaar":1926,"w":0.284},{"r":"Oost-Europa en Centraal Azië","jaar":1927,"w":0.263},{"r":"Oost-Europa en Centraal Azië","jaar":1928,"w":0.260},{"r":"Oost-Europa en Centraal Azië","jaar":1929,"w":0.257},{"r":"Oost-Europa en Centraal Azië","jaar":1930,"w":0.253},{"r":"Oost-Europa en Centraal Azië","jaar":1931,"w":0.257},{"r":"Oost-Europa en Centraal Azië","jaar":1932,"w":0.268},{"r":"Oost-Europa en Centraal Azië","jaar":1933,"w":0.248},{"r":"Oost-Europa en Centraal Azië","jaar":1934,"w":0.212},{"r":"Oost-Europa en Centraal Azië","jaar":1935,"w":0.180},{"r":"Oost-Europa en Centraal Azië","jaar":1936,"w":0.170},{"r":"Oost-Europa en Centraal Azië","jaar":1937,"w":0.168},{"r":"Oost-Europa en Centraal Azië","jaar":1938,"w":0.167},{"r":"Oost-Europa en Centraal Azië","jaar":1939,"w":0.105},{"r":"Oost-Europa en Centraal Azië","jaar":1940,"w":0.078},{"r":"Oost-Europa en Centraal Azië","jaar":1941,"w":0.070},{"r":"Oost-Europa en Centraal Azië","jaar":1942,"w":0.064},{"r":"Oost-Europa en Centraal Azië","jaar":1944,"w":0.060},{"r":"Oost-Europa en Centraal Azië","jaar":1945,"w":0.053},{"r":"Oost-Europa en Centraal Azië","jaar":1946,"w":0.070},{"r":"Oost-Europa en Centraal Azië","jaar":1947,"w":0.070},{"r":"Oost-Europa en Centraal Azië","jaar":1948,"w":0.066},{"r":"Oost-Europa en Centraal Azië","jaar":1949,"w":0.058},{"r":"Oost-Europa en Centraal Azië","jaar":1950,"w":0.056},{"r":"Oost-Europa en Centraal Azië","jaar":1952,"w":0.057},{"r":"Oost-Europa en Centraal Azië","jaar":1954,"w":0.058},{"r":"Oost-Europa en Centraal Azië","jaar":1956,"w":0.060},{"r":"Oost-Europa en Centraal Azië","jaar":1958,"w":0.063},{"r":"Oost-Europa en Centraal Azië","jaar":1960,"w":0.064},{"r":"Oost-Europa en Centraal Azië","jaar":1963,"w":0.067},{"r":"Oost-Europa en Centraal Azië","jaar":1966,"w":0.069},{"r":"Oost-Europa en Centraal Azië","jaar":1969,"w":0.070},{"r":"Oost-Europa en Centraal Azië","jaar":1972,"w":0.070},{"r":"Oost-Europa en Centraal Azië","jaar":1975,"w":0.071},{"r":"Oost-Europa en Centraal Azië","jaar":1978,"w":0.072},{"r":"Oost-Europa en Centraal Azië","jaar":1981,"w":0.073},{"r":"Oost-Europa en Centraal Azië","jaar":1984,"w":0.074},{"r":"Oost-Europa en Centraal Azië","jaar":1986,"w":0.076},{"r":"Oost-Europa en Centraal Azië","jaar":1987,"w":0.078},{"r":"Oost-Europa en Centraal Azië","jaar":1988,"w":0.086},{"r":"Oost-Europa en Centraal Azië","jaar":1989,"w":0.140},{"r":"Oost-Europa en Centraal Azië","jaar":1990,"w":0.345},{"r":"Oost-Europa en Centraal Azië","jaar":1991,"w":0.376},{"r":"Oost-Europa en Centraal Azië","jaar":1992,"w":0.393},{"r":"Oost-Europa en Centraal Azië","jaar":1993,"w":0.401},{"r":"Oost-Europa en Centraal Azië","jaar":1994,"w":0.402},{"r":"Oost-Europa en Centraal Azië","jaar":1996,"w":0.401},{"r":"Oost-Europa en Centraal Azië","jaar":1998,"w":0.401},{"r":"Oost-Europa en Centraal Azië","jaar":1999,"w":0.402},{"r":"Oost-Europa en Centraal Azië","jaar":2000,"w":0.408},{"r":"Oost-Europa en Centraal Azië","jaar":2001,"w":0.415},{"r":"Oost-Europa en Centraal Azië","jaar":2002,"w":0.424},{"r":"Oost-Europa en Centraal Azië","jaar":2003,"w":0.430},{"r":"Oost-Europa en Centraal Azië","jaar":2004,"w":0.433},{"r":"Oost-Europa en Centraal Azië","jaar":2005,"w":0.435},{"r":"Oost-Europa en Centraal Azië","jaar":2007,"w":0.437},{"r":"Oost-Europa en Centraal Azië","jaar":2009,"w":0.438},{"r":"Oost-Europa en Centraal Azië","jaar":2010,"w":0.441},{"r":"Oost-Europa en Centraal Azië","jaar":2011,"w":0.443},{"r":"Oost-Europa en Centraal Azië","jaar":2012,"w":0.445},{"r":"Oost-Europa en Centraal Azië","jaar":2013,"w":0.437},{"r":"Oost-Europa en Centraal Azië","jaar":2014,"w":0.432},{"r":"Oost-Europa en Centraal Azië","jaar":2015,"w":0.428},{"r":"Oost-Europa en Centraal Azië","jaar":2016,"w":0.421},{"r":"Oost-Europa en Centraal Azië","jaar":2017,"w":0.411},{"r":"Oost-Europa en Centraal Azië","jaar":2018,"w":0.407},{"r":"Oost-Europa en Centraal Azië","jaar":2019,"w":0.415},{"r":"Oost-Europa en Centraal Azië","jaar":2020,"w":0.417},{"r":"Oost-Europa en Centraal Azië","jaar":2021,"w":0.417},
{"r":"Sub-Sahara Afrika","jaar":1831,"w":0.010},{"r":"Sub-Sahara Afrika","jaar":1833,"w":0.009},{"r":"Sub-Sahara Afrika","jaar":1837,"w":0.009},{"r":"Sub-Sahara Afrika","jaar":1838,"w":0.011},{"r":"Sub-Sahara Afrika","jaar":1839,"w":0.023},{"r":"Sub-Sahara Afrika","jaar":1843,"w":0.023},{"r":"Sub-Sahara Afrika","jaar":1846,"w":0.024},{"r":"Sub-Sahara Afrika","jaar":1847,"w":0.031},{"r":"Sub-Sahara Afrika","jaar":1848,"w":0.043},{"r":"Sub-Sahara Afrika","jaar":1849,"w":0.051},{"r":"Sub-Sahara Afrika","jaar":1850,"w":0.062},{"r":"Sub-Sahara Afrika","jaar":1854,"w":0.062},{"r":"Sub-Sahara Afrika","jaar":1858,"w":0.062},{"r":"Sub-Sahara Afrika","jaar":1860,"w":0.063},{"r":"Sub-Sahara Afrika","jaar":1861,"w":0.067},{"r":"Sub-Sahara Afrika","jaar":1862,"w":0.071},{"r":"Sub-Sahara Afrika","jaar":1864,"w":0.073},{"r":"Sub-Sahara Afrika","jaar":1865,"w":0.066},{"r":"Sub-Sahara Afrika","jaar":1867,"w":0.064},{"r":"Sub-Sahara Afrika","jaar":1870,"w":0.063},{"r":"Sub-Sahara Afrika","jaar":1875,"w":0.063},{"r":"Sub-Sahara Afrika","jaar":1880,"w":0.063},{"r":"Sub-Sahara Afrika","jaar":1885,"w":0.064},{"r":"Sub-Sahara Afrika","jaar":1890,"w":0.064},{"r":"Sub-Sahara Afrika","jaar":1894,"w":0.063},{"r":"Sub-Sahara Afrika","jaar":1896,"w":0.064},{"r":"Sub-Sahara Afrika","jaar":1897,"w":0.068},{"r":"Sub-Sahara Afrika","jaar":1898,"w":0.072},{"r":"Sub-Sahara Afrika","jaar":1899,"w":0.066},{"r":"Sub-Sahara Afrika","jaar":1900,"w":0.060},{"r":"Sub-Sahara Afrika","jaar":1903,"w":0.059},{"r":"Sub-Sahara Afrika","jaar":1905,"w":0.059},{"r":"Sub-Sahara Afrika","jaar":1908,"w":0.061},{"r":"Sub-Sahara Afrika","jaar":1912,"w":0.061},{"r":"Sub-Sahara Afrika","jaar":1916,"w":0.060},{"r":"Sub-Sahara Afrika","jaar":1919,"w":0.060},{"r":"Sub-Sahara Afrika","jaar":1922,"w":0.063},{"r":"Sub-Sahara Afrika","jaar":1926,"w":0.064},{"r":"Sub-Sahara Afrika","jaar":1930,"w":0.064},{"r":"Sub-Sahara Afrika","jaar":1935,"w":0.064},{"r":"Sub-Sahara Afrika","jaar":1940,"w":0.064},{"r":"Sub-Sahara Afrika","jaar":1942,"w":0.063},{"r":"Sub-Sahara Afrika","jaar":1944,"w":0.064},{"r":"Sub-Sahara Afrika","jaar":1945,"w":0.066},{"r":"Sub-Sahara Afrika","jaar":1946,"w":0.072},{"r":"Sub-Sahara Afrika","jaar":1947,"w":0.074},{"r":"Sub-Sahara Afrika","jaar":1949,"w":0.080},{"r":"Sub-Sahara Afrika","jaar":1951,"w":0.083},{"r":"Sub-Sahara Afrika","jaar":1953,"w":0.085},{"r":"Sub-Sahara Afrika","jaar":1955,"w":0.087},{"r":"Sub-Sahara Afrika","jaar":1956,"w":0.090},{"r":"Sub-Sahara Afrika","jaar":1957,"w":0.095},{"r":"Sub-Sahara Afrika","jaar":1958,"w":0.100},{"r":"Sub-Sahara Afrika","jaar":1959,"w":0.110},{"r":"Sub-Sahara Afrika","jaar":1960,"w":0.117},{"r":"Sub-Sahara Afrika","jaar":1961,"w":0.125},{"r":"Sub-Sahara Afrika","jaar":1962,"w":0.133},{"r":"Sub-Sahara Afrika","jaar":1963,"w":0.133},{"r":"Sub-Sahara Afrika","jaar":1964,"w":0.130},{"r":"Sub-Sahara Afrika","jaar":1966,"w":0.126},{"r":"Sub-Sahara Afrika","jaar":1967,"w":0.124},{"r":"Sub-Sahara Afrika","jaar":1969,"w":0.122},{"r":"Sub-Sahara Afrika","jaar":1970,"w":0.121},{"r":"Sub-Sahara Afrika","jaar":1972,"w":0.117},{"r":"Sub-Sahara Afrika","jaar":1973,"w":0.114},{"r":"Sub-Sahara Afrika","jaar":1975,"w":0.112},{"r":"Sub-Sahara Afrika","jaar":1978,"w":0.113},{"r":"Sub-Sahara Afrika","jaar":1979,"w":0.122},{"r":"Sub-Sahara Afrika","jaar":1980,"w":0.129},{"r":"Sub-Sahara Afrika","jaar":1981,"w":0.127},{"r":"Sub-Sahara Afrika","jaar":1983,"w":0.125},{"r":"Sub-Sahara Afrika","jaar":1985,"w":0.129},{"r":"Sub-Sahara Afrika","jaar":1986,"w":0.131},{"r":"Sub-Sahara Afrika","jaar":1987,"w":0.133},{"r":"Sub-Sahara Afrika","jaar":1988,"w":0.137},{"r":"Sub-Sahara Afrika","jaar":1989,"w":0.142},{"r":"Sub-Sahara Afrika","jaar":1990,"w":0.155},{"r":"Sub-Sahara Afrika","jaar":1991,"w":0.174},{"r":"Sub-Sahara Afrika","jaar":1992,"w":0.200},{"r":"Sub-Sahara Afrika","jaar":1993,"w":0.226},{"r":"Sub-Sahara Afrika","jaar":1994,"w":0.240},{"r":"Sub-Sahara Afrika","jaar":1995,"w":0.249},{"r":"Sub-Sahara Afrika","jaar":1996,"w":0.253},{"r":"Sub-Sahara Afrika","jaar":1997,"w":0.254},{"r":"Sub-Sahara Afrika","jaar":1998,"w":0.255},{"r":"Sub-Sahara Afrika","jaar":1999,"w":0.256},{"r":"Sub-Sahara Afrika","jaar":2000,"w":0.259},{"r":"Sub-Sahara Afrika","jaar":2001,"w":0.262},{"r":"Sub-Sahara Afrika","jaar":2002,"w":0.270},{"r":"Sub-Sahara Afrika","jaar":2003,"w":0.278},{"r":"Sub-Sahara Afrika","jaar":2004,"w":0.285},{"r":"Sub-Sahara Afrika","jaar":2005,"w":0.292},{"r":"Sub-Sahara Afrika","jaar":2006,"w":0.298},{"r":"Sub-Sahara Afrika","jaar":2007,"w":0.302},{"r":"Sub-Sahara Afrika","jaar":2008,"w":0.299},{"r":"Sub-Sahara Afrika","jaar":2010,"w":0.297},{"r":"Sub-Sahara Afrika","jaar":2012,"w":0.298},{"r":"Sub-Sahara Afrika","jaar":2013,"w":0.299},{"r":"Sub-Sahara Afrika","jaar":2014,"w":0.301},{"r":"Sub-Sahara Afrika","jaar":2015,"w":0.303},{"r":"Sub-Sahara Afrika","jaar":2016,"w":0.305},{"r":"Sub-Sahara Afrika","jaar":2017,"w":0.304},{"r":"Sub-Sahara Afrika","jaar":2018,"w":0.301},{"r":"Sub-Sahara Afrika","jaar":2019,"w":0.296},{"r":"Sub-Sahara Afrika","jaar":2020,"w":0.289},{"r":"Sub-Sahara Afrika","jaar":2021,"w":0.284},
{"r":"West-Europa en Noord-Amerika","jaar":1831,"w":0.147},{"r":"West-Europa en Noord-Amerika","jaar":1832,"w":0.150},{"r":"West-Europa en Noord-Amerika","jaar":1834,"w":0.153},{"r":"West-Europa en Noord-Amerika","jaar":1836,"w":0.153},{"r":"West-Europa en Noord-Amerika","jaar":1838,"w":0.155},{"r":"West-Europa en Noord-Amerika","jaar":1839,"w":0.153},{"r":"West-Europa en Noord-Amerika","jaar":1840,"w":0.155},{"r":"West-Europa en Noord-Amerika","jaar":1841,"w":0.160},{"r":"West-Europa en Noord-Amerika","jaar":1842,"w":0.163},{"r":"West-Europa en Noord-Amerika","jaar":1843,"w":0.167},{"r":"West-Europa en Noord-Amerika","jaar":1847,"w":0.169},{"r":"West-Europa en Noord-Amerika","jaar":1848,"w":0.185},{"r":"West-Europa en Noord-Amerika","jaar":1849,"w":0.201},{"r":"West-Europa en Noord-Amerika","jaar":1850,"w":0.208},{"r":"West-Europa en Noord-Amerika","jaar":1851,"w":0.201},{"r":"West-Europa en Noord-Amerika","jaar":1853,"w":0.199},{"r":"West-Europa en Noord-Amerika","jaar":1854,"w":0.202},{"r":"West-Europa en Noord-Amerika","jaar":1856,"w":0.207},{"r":"West-Europa en Noord-Amerika","jaar":1858,"w":0.212},{"r":"West-Europa en Noord-Amerika","jaar":1859,"w":0.214},{"r":"West-Europa en Noord-Amerika","jaar":1860,"w":0.218},{"r":"West-Europa en Noord-Amerika","jaar":1861,"w":0.226},{"r":"West-Europa en Noord-Amerika","jaar":1862,"w":0.229},{"r":"West-Europa en Noord-Amerika","jaar":1865,"w":0.230},{"r":"West-Europa en Noord-Amerika","jaar":1866,"w":0.233},{"r":"West-Europa en Noord-Amerika","jaar":1867,"w":0.245},{"r":"West-Europa en Noord-Amerika","jaar":1868,"w":0.256},{"r":"West-Europa en Noord-Amerika","jaar":1869,"w":0.262},{"r":"West-Europa en Noord-Amerika","jaar":1870,"w":0.271},{"r":"West-Europa en Noord-Amerika","jaar":1871,"w":0.281},{"r":"West-Europa en Noord-Amerika","jaar":1872,"w":0.308},{"r":"West-Europa en Noord-Amerika","jaar":1874,"w":0.312},{"r":"West-Europa en Noord-Amerika","jaar":1875,"w":0.315},{"r":"West-Europa en Noord-Amerika","jaar":1877,"w":0.317},{"r":"West-Europa en Noord-Amerika","jaar":1878,"w":0.321},{"r":"West-Europa en Noord-Amerika","jaar":1880,"w":0.325},{"r":"West-Europa en Noord-Amerika","jaar":1883,"w":0.328},{"r":"West-Europa en Noord-Amerika","jaar":1885,"w":0.329},{"r":"West-Europa en Noord-Amerika","jaar":1887,"w":0.330},{"r":"West-Europa en Noord-Amerika","jaar":1891,"w":0.334},{"r":"West-Europa en Noord-Amerika","jaar":1893,"w":0.339},{"r":"West-Europa en Noord-Amerika","jaar":1894,"w":0.345},{"r":"West-Europa en Noord-Amerika","jaar":1896,"w":0.352},{"r":"West-Europa en Noord-Amerika","jaar":1898,"w":0.358},{"r":"West-Europa en Noord-Amerika","jaar":1899,"w":0.355},{"r":"West-Europa en Noord-Amerika","jaar":1900,"w":0.335},{"r":"West-Europa en Noord-Amerika","jaar":1901,"w":0.348},{"r":"West-Europa en Noord-Amerika","jaar":1902,"w":0.355},{"r":"West-Europa en Noord-Amerika","jaar":1903,"w":0.360},{"r":"West-Europa en Noord-Amerika","jaar":1905,"w":0.367},{"r":"West-Europa en Noord-Amerika","jaar":1906,"w":0.370},{"r":"West-Europa en Noord-Amerika","jaar":1908,"w":0.373},{"r":"West-Europa en Noord-Amerika","jaar":1910,"w":0.373},{"r":"West-Europa en Noord-Amerika","jaar":1911,"w":0.375},{"r":"West-Europa en Noord-Amerika","jaar":1913,"w":0.376},{"r":"West-Europa en Noord-Amerika","jaar":1914,"w":0.367},{"r":"West-Europa en Noord-Amerika","jaar":1915,"w":0.357},{"r":"West-Europa en Noord-Amerika","jaar":1916,"w":0.368},{"r":"West-Europa en Noord-Amerika","jaar":1917,"w":0.379},{"r":"West-Europa en Noord-Amerika","jaar":1918,"w":0.397},{"r":"West-Europa en Noord-Amerika","jaar":1919,"w":0.419},{"r":"West-Europa en Noord-Amerika","jaar":1920,"w":0.456},{"r":"West-Europa en Noord-Amerika","jaar":1921,"w":0.481},{"r":"West-Europa en Noord-Amerika","jaar":1922,"w":0.488},{"r":"West-Europa en Noord-Amerika","jaar":1923,"w":0.491},{"r":"West-Europa en Noord-Amerika","jaar":1924,"w":0.488},{"r":"West-Europa en Noord-Amerika","jaar":1925,"w":0.482},{"r":"West-Europa en Noord-Amerika","jaar":1926,"w":0.480},{"r":"West-Europa en Noord-Amerika","jaar":1927,"w":0.486},{"r":"West-Europa en Noord-Amerika","jaar":1929,"w":0.486},{"r":"West-Europa en Noord-Amerika","jaar":1930,"w":0.480},{"r":"West-Europa en Noord-Amerika","jaar":1931,"w":0.483},{"r":"West-Europa en Noord-Amerika","jaar":1932,"w":0.485},{"r":"West-Europa en Noord-Amerika","jaar":1933,"w":0.472},{"r":"West-Europa en Noord-Amerika","jaar":1934,"w":0.455},{"r":"West-Europa en Noord-Amerika","jaar":1935,"w":0.449},{"r":"West-Europa en Noord-Amerika","jaar":1936,"w":0.444},{"r":"West-Europa en Noord-Amerika","jaar":1937,"w":0.441},{"r":"West-Europa en Noord-Amerika","jaar":1938,"w":0.437},{"r":"West-Europa en Noord-Amerika","jaar":1939,"w":0.413},{"r":"West-Europa en Noord-Amerika","jaar":1940,"w":0.345},{"r":"West-Europa en Noord-Amerika","jaar":1941,"w":0.327},{"r":"West-Europa en Noord-Amerika","jaar":1942,"w":0.322},{"r":"West-Europa en Noord-Amerika","jaar":1943,"w":0.318},{"r":"West-Europa en Noord-Amerika","jaar":1944,"w":0.311},{"r":"West-Europa en Noord-Amerika","jaar":1945,"w":0.430},{"r":"West-Europa en Noord-Amerika","jaar":1946,"w":0.510},{"r":"West-Europa en Noord-Amerika","jaar":1947,"w":0.551},{"r":"West-Europa en Noord-Amerika","jaar":1948,"w":0.569},{"r":"West-Europa en Noord-Amerika","jaar":1949,"w":0.581},{"r":"West-Europa en Noord-Amerika","jaar":1950,"w":0.585},{"r":"West-Europa en Noord-Amerika","jaar":1951,"w":0.586},{"r":"West-Europa en Noord-Amerika","jaar":1953,"w":0.589},{"r":"West-Europa en Noord-Amerika","jaar":1955,"w":0.593},{"r":"West-Europa en Noord-Amerika","jaar":1956,"w":0.597},{"r":"West-Europa en Noord-Amerika","jaar":1957,"w":0.595},{"r":"West-Europa en Noord-Amerika","jaar":1958,"w":0.592},{"r":"West-Europa en Noord-Amerika","jaar":1959,"w":0.588},{"r":"West-Europa en Noord-Amerika","jaar":1960,"w":0.597},{"r":"West-Europa en Noord-Amerika","jaar":1961,"w":0.605},{"r":"West-Europa en Noord-Amerika","jaar":1962,"w":0.622},{"r":"West-Europa en Noord-Amerika","jaar":1963,"w":0.630},{"r":"West-Europa en Noord-Amerika","jaar":1964,"w":0.632},{"r":"West-Europa en Noord-Amerika","jaar":1965,"w":0.630},{"r":"West-Europa en Noord-Amerika","jaar":1968,"w":0.629},{"r":"West-Europa en Noord-Amerika","jaar":1969,"w":0.637},{"r":"West-Europa en Noord-Amerika","jaar":1970,"w":0.643},{"r":"West-Europa en Noord-Amerika","jaar":1971,"w":0.650},{"r":"West-Europa en Noord-Amerika","jaar":1972,"w":0.655},{"r":"West-Europa en Noord-Amerika","jaar":1973,"w":0.660},{"r":"West-Europa en Noord-Amerika","jaar":1974,"w":0.670},{"r":"West-Europa en Noord-Amerika","jaar":1975,"w":0.695},{"r":"West-Europa en Noord-Amerika","jaar":1976,"w":0.715},{"r":"West-Europa en Noord-Amerika","jaar":1977,"w":0.730},{"r":"West-Europa en Noord-Amerika","jaar":1978,"w":0.745},{"r":"West-Europa en Noord-Amerika","jaar":1979,"w":0.755},{"r":"West-Europa en Noord-Amerika","jaar":1980,"w":0.762},{"r":"West-Europa en Noord-Amerika","jaar":1981,"w":0.767},{"r":"West-Europa en Noord-Amerika","jaar":1982,"w":0.770},{"r":"West-Europa en Noord-Amerika","jaar":1984,"w":0.774},{"r":"West-Europa en Noord-Amerika","jaar":1986,"w":0.776},{"r":"West-Europa en Noord-Amerika","jaar":1987,"w":0.780},{"r":"West-Europa en Noord-Amerika","jaar":1988,"w":0.783},{"r":"West-Europa en Noord-Amerika","jaar":1989,"w":0.789},{"r":"West-Europa en Noord-Amerika","jaar":1990,"w":0.793},{"r":"West-Europa en Noord-Amerika","jaar":1992,"w":0.797},{"r":"West-Europa en Noord-Amerika","jaar":1994,"w":0.798},{"r":"West-Europa en Noord-Amerika","jaar":1996,"w":0.799},{"r":"West-Europa en Noord-Amerika","jaar":1998,"w":0.802},{"r":"West-Europa en Noord-Amerika","jaar":2000,"w":0.804},{"r":"West-Europa en Noord-Amerika","jaar":2003,"w":0.804},{"r":"West-Europa en Noord-Amerika","jaar":2004,"w":0.806},{"r":"West-Europa en Noord-Amerika","jaar":2005,"w":0.808},{"r":"West-Europa en Noord-Amerika","jaar":2006,"w":0.812},{"r":"West-Europa en Noord-Amerika","jaar":2008,"w":0.817},{"r":"West-Europa en Noord-Amerika","jaar":2010,"w":0.820},{"r":"West-Europa en Noord-Amerika","jaar":2011,"w":0.820},{"r":"West-Europa en Noord-Amerika","jaar":2012,"w":0.818},{"r":"West-Europa en Noord-Amerika","jaar":2013,"w":0.815},{"r":"West-Europa en Noord-Amerika","jaar":2015,"w":0.810},{"r":"West-Europa en Noord-Amerika","jaar":2016,"w":0.808},{"r":"West-Europa en Noord-Amerika","jaar":2018,"w":0.804},{"r":"West-Europa en Noord-Amerika","jaar":2020,"w":0.797},{"r":"West-Europa en Noord-Amerika","jaar":2021,"w":0.789}
],
"wereld":[
{"jaar":1831,"w":0.099},{"jaar":1832,"w":0.101},{"jaar":1834,"w":0.103},{"jaar":1836,"w":0.104},{"jaar":1838,"w":0.102},{"jaar":1839,"w":0.100},{"jaar":1840,"w":0.100},{"jaar":1841,"w":0.104},{"jaar":1842,"w":0.107},{"jaar":1844,"w":0.108},{"jaar":1846,"w":0.107},{"jaar":1847,"w":0.110},{"jaar":1848,"w":0.122},{"jaar":1849,"w":0.128},{"jaar":1850,"w":0.130},{"jaar":1852,"w":0.125},{"jaar":1854,"w":0.129},{"jaar":1856,"w":0.135},{"jaar":1859,"w":0.136},{"jaar":1860,"w":0.139},{"jaar":1861,"w":0.145},{"jaar":1862,"w":0.149},{"jaar":1863,"w":0.149},{"jaar":1865,"w":0.144},{"jaar":1866,"w":0.148},{"jaar":1867,"w":0.152},{"jaar":1868,"w":0.155},{"jaar":1870,"w":0.160},{"jaar":1871,"w":0.165},{"jaar":1872,"w":0.168},{"jaar":1874,"w":0.172},{"jaar":1876,"w":0.171},{"jaar":1877,"w":0.169},{"jaar":1879,"w":0.173},{"jaar":1881,"w":0.173},{"jaar":1883,"w":0.174},{"jaar":1884,"w":0.173},{"jaar":1885,"w":0.177},{"jaar":1887,"w":0.180},{"jaar":1889,"w":0.184},{"jaar":1891,"w":0.185},{"jaar":1893,"w":0.190},{"jaar":1895,"w":0.193},{"jaar":1897,"w":0.195},{"jaar":1899,"w":0.196},{"jaar":1900,"w":0.133},{"jaar":1901,"w":0.138},{"jaar":1903,"w":0.136},{"jaar":1906,"w":0.139},{"jaar":1908,"w":0.141},{"jaar":1910,"w":0.141},{"jaar":1912,"w":0.139},{"jaar":1915,"w":0.135},{"jaar":1917,"w":0.136},{"jaar":1918,"w":0.139},{"jaar":1919,"w":0.150},{"jaar":1920,"w":0.164},{"jaar":1921,"w":0.169},{"jaar":1922,"w":0.170},{"jaar":1923,"w":0.173},{"jaar":1925,"w":0.172},{"jaar":1927,"w":0.169},{"jaar":1929,"w":0.168},{"jaar":1930,"w":0.167},{"jaar":1931,"w":0.166},{"jaar":1932,"w":0.167},{"jaar":1933,"w":0.164},{"jaar":1934,"w":0.157},{"jaar":1935,"w":0.154},{"jaar":1936,"w":0.153},{"jaar":1938,"w":0.153},{"jaar":1939,"w":0.149},{"jaar":1940,"w":0.132},{"jaar":1942,"w":0.128},{"jaar":1943,"w":0.127},{"jaar":1944,"w":0.131},{"jaar":1945,"w":0.150},{"jaar":1946,"w":0.170},{"jaar":1947,"w":0.178},{"jaar":1948,"w":0.182},{"jaar":1949,"w":0.192},{"jaar":1950,"w":0.198},{"jaar":1951,"w":0.200},{"jaar":1953,"w":0.202},{"jaar":1955,"w":0.206},{"jaar":1956,"w":0.210},{"jaar":1957,"w":0.214},{"jaar":1958,"w":0.216},{"jaar":1959,"w":0.220},{"jaar":1960,"w":0.227},{"jaar":1961,"w":0.229},{"jaar":1962,"w":0.231},{"jaar":1963,"w":0.235},{"jaar":1965,"w":0.232},{"jaar":1967,"w":0.228},{"jaar":1968,"w":0.227},{"jaar":1970,"w":0.227},{"jaar":1972,"w":0.224},{"jaar":1973,"w":0.223},{"jaar":1975,"w":0.224},{"jaar":1976,"w":0.230},{"jaar":1977,"w":0.233},{"jaar":1978,"w":0.237},{"jaar":1979,"w":0.244},{"jaar":1980,"w":0.252},{"jaar":1982,"w":0.254},{"jaar":1983,"w":0.257},{"jaar":1984,"w":0.262},{"jaar":1985,"w":0.268},{"jaar":1986,"w":0.272},{"jaar":1987,"w":0.277},{"jaar":1988,"w":0.282},{"jaar":1989,"w":0.293},{"jaar":1990,"w":0.332},{"jaar":1991,"w":0.350},{"jaar":1992,"w":0.360},{"jaar":1993,"w":0.365},{"jaar":1994,"w":0.372},{"jaar":1995,"w":0.377},{"jaar":1996,"w":0.381},{"jaar":1997,"w":0.382},{"jaar":1998,"w":0.383},{"jaar":1999,"w":0.385},{"jaar":2000,"w":0.390},{"jaar":2001,"w":0.393},{"jaar":2002,"w":0.398},{"jaar":2003,"w":0.400},{"jaar":2004,"w":0.403},{"jaar":2005,"w":0.406},{"jaar":2006,"w":0.410},{"jaar":2007,"w":0.408},{"jaar":2008,"w":0.410},{"jaar":2009,"w":0.412},{"jaar":2010,"w":0.414},{"jaar":2011,"w":0.416},{"jaar":2012,"w":0.414},{"jaar":2013,"w":0.412},{"jaar":2014,"w":0.412},{"jaar":2015,"w":0.411},{"jaar":2016,"w":0.409},{"jaar":2017,"w":0.407},{"jaar":2018,"w":0.406},{"jaar":2019,"w":0.405},{"jaar":2020,"w":0.399},{"jaar":2021,"w":0.393}
],
"belgie":[
{"jaar":1832,"w":0.301},{"jaar":1833,"w":0.301},{"jaar":1834,"w":0.302},{"jaar":1835,"w":0.302},{"jaar":1836,"w":0.301},{"jaar":1839,"w":0.301},{"jaar":1840,"w":0.325},{"jaar":1841,"w":0.332},{"jaar":1843,"w":0.331},{"jaar":1844,"w":0.333},{"jaar":1845,"w":0.333},{"jaar":1846,"w":0.335},{"jaar":1847,"w":0.338},{"jaar":1848,"w":0.341},{"jaar":1855,"w":0.341},{"jaar":1856,"w":0.340},{"jaar":1857,"w":0.341},{"jaar":1860,"w":0.341},{"jaar":1862,"w":0.339},{"jaar":1863,"w":0.339},{"jaar":1865,"w":0.341},{"jaar":1867,"w":0.341},{"jaar":1868,"w":0.343},{"jaar":1869,"w":0.344},{"jaar":1872,"w":0.343},{"jaar":1875,"w":0.344},{"jaar":1877,"w":0.343},{"jaar":1878,"w":0.351},{"jaar":1879,"w":0.356},{"jaar":1882,"w":0.356},{"jaar":1883,"w":0.355},{"jaar":1884,"w":0.355},{"jaar":1885,"w":0.354},{"jaar":1886,"w":0.349},{"jaar":1887,"w":0.347},{"jaar":1888,"w":0.348},{"jaar":1892,"w":0.349},{"jaar":1893,"w":0.350},{"jaar":1894,"w":0.437},{"jaar":1895,"w":0.441},{"jaar":1896,"w":0.443},{"jaar":1898,"w":0.443},{"jaar":1899,"w":0.442},{"jaar":1900,"w":0.451},{"jaar":1901,"w":0.452},{"jaar":1902,"w":0.450},{"jaar":1903,"w":0.449},{"jaar":1905,"w":0.449},{"jaar":1906,"w":0.451},{"jaar":1907,"w":0.452},{"jaar":1908,"w":0.449},{"jaar":1909,"w":0.450},{"jaar":1912,"w":0.451},{"jaar":1913,"w":0.449},{"jaar":1914,"w":0.270},{"jaar":1915,"w":0.150},{"jaar":1917,"w":0.150},{"jaar":1918,"w":0.153},{"jaar":1919,"w":0.213},{"jaar":1920,"w":0.360},{"jaar":1921,"w":0.452},{"jaar":1922,"w":0.454},{"jaar":1924,"w":0.454},{"jaar":1925,"w":0.453},{"jaar":1927,"w":0.453},{"jaar":1928,"w":0.452},{"jaar":1929,"w":0.451},{"jaar":1931,"w":0.451},{"jaar":1932,"w":0.452},{"jaar":1934,"w":0.452},{"jaar":1935,"w":0.451},{"jaar":1936,"w":0.454},{"jaar":1937,"w":0.453},{"jaar":1938,"w":0.452},{"jaar":1939,"w":0.210},{"jaar":1940,"w":0.144},{"jaar":1941,"w":0.142},{"jaar":1942,"w":0.142},{"jaar":1943,"w":0.167},{"jaar":1944,"w":0.280},{"jaar":1945,"w":0.462},{"jaar":1946,"w":0.485},{"jaar":1947,"w":0.485},{"jaar":1948,"w":0.622},{"jaar":1949,"w":0.638},{"jaar":1950,"w":0.642},{"jaar":1952,"w":0.642},{"jaar":1953,"w":0.650},{"jaar":1954,"w":0.652},{"jaar":1958,"w":0.652},{"jaar":1959,"w":0.754},{"jaar":1960,"w":0.751},{"jaar":1961,"w":0.758},{"jaar":1962,"w":0.761},{"jaar":1963,"w":0.761},{"jaar":1964,"w":0.760},{"jaar":1966,"w":0.759},{"jaar":1967,"w":0.763},{"jaar":1968,"w":0.764},{"jaar":1969,"w":0.773},{"jaar":1972,"w":0.773},{"jaar":1973,"w":0.768},{"jaar":1974,"w":0.766},{"jaar":1975,"w":0.771},{"jaar":1976,"w":0.773},{"jaar":1977,"w":0.774},{"jaar":1978,"w":0.775},{"jaar":1979,"w":0.788},{"jaar":1980,"w":0.787},{"jaar":1981,"w":0.780},{"jaar":1984,"w":0.780},{"jaar":1985,"w":0.779},{"jaar":1987,"w":0.778},{"jaar":1988,"w":0.785},{"jaar":1989,"w":0.801},{"jaar":1990,"w":0.801},{"jaar":1991,"w":0.804},{"jaar":1994,"w":0.805},{"jaar":1995,"w":0.808},{"jaar":1996,"w":0.814},{"jaar":1997,"w":0.814},{"jaar":1998,"w":0.812},{"jaar":1999,"w":0.816},{"jaar":2000,"w":0.821},{"jaar":2002,"w":0.821},{"jaar":2003,"w":0.823},{"jaar":2004,"w":0.790},{"jaar":2005,"w":0.813},{"jaar":2006,"w":0.817},{"jaar":2007,"w":0.825},{"jaar":2008,"w":0.829},{"jaar":2009,"w":0.829},{"jaar":2010,"w":0.827},{"jaar":2012,"w":0.828},{"jaar":2013,"w":0.835},{"jaar":2014,"w":0.836},{"jaar":2015,"w":0.836},{"jaar":2016,"w":0.835},{"jaar":2017,"w":0.833},{"jaar":2018,"w":0.832},{"jaar":2019,"w":0.829},{"jaar":2020,"w":0.823},{"jaar":2021,"w":0.815}
],
"label":[{"jaar":2021,"w":0.815,"t":"België"}]
},
"encoding":{
 "x":{"field":"jaar","type":"quantitative","scale":{"domain":[1821.5,2030.5],"nice":false,"zero":false},"axis":{"values":[1850,1900,1950,2000],"format":"d"}},
 "y":{"field":"w","type":"quantitative","scale":{"domain":[-0.031,0.876],"nice":false,"zero":false},"axis":{"values":[0,0.2,0.4,0.6,0.8],"format":".1f"}}
},
"layer":[
 {"data":{"name":"regio"},"mark":{"type":"line","strokeWidth":3.2,"strokeDash":[3.2,9.6],"strokeCap":"butt"},
  "encoding":{"color":{"field":"r","type":"nominal","title":"Regio","scale":{"domain":["Azië en Oceanië","Latijns-Amerika en de Caraïben","Midden-Oosten en Noord-Afrika","Oost-Europa en Centraal Azië","Sub-Sahara Afrika","West-Europa en Noord-Amerika"],"range":["#F8766D","#B79F00","#00BA38","#00BFC4","#619CFF","#F564E3"]}}}},
 {"data":{"name":"wereld"},"mark":{"type":"line","strokeWidth":3.3,"strokeDash":[12,12],"color":"black"},"encoding":{}},
 {"data":{"name":"belgie"},"mark":{"type":"line","strokeWidth":3.3,"color":"#8B0000"},"encoding":{}},
 {"data":{"name":"label"},"mark":{"type":"text","align":"left","baseline":"alphabetic","dx":29,"dy":23,"fontSize":44,"font":"Roboto","color":"#8B0000"},"encoding":{"text":{"field":"t"}}}
]
}
